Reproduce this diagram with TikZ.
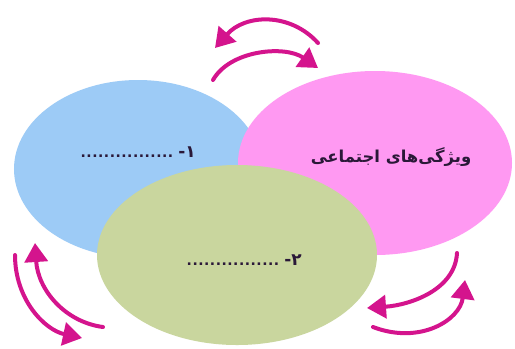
\documentclass[tikz,border=0pt]{standalone}
\usepackage{fontspec}
\newfontfamily\arabicfont[Script=Arabic]{DejaVu Sans}
\newfontfamily\plainfont{DejaVu Sans}
\TeXXeTstate=1
\usetikzlibrary{shapes.geometric,arrows.meta}
\definecolor{cblue}{HTML}{9DCBF6}
\definecolor{cpink}{HTML}{FF99F2}
\definecolor{cgreen}{HTML}{C9D69E}
\definecolor{carrow}{HTML}{D4148D}
\definecolor{ctext}{HTML}{2A1838}
\newcommand{\mydots}[1]{\hbox to #1{\xleaders\hbox to 5.8bp{\hss\fontsize{14}{16}\selectfont\bfseries.\hss}\hfill}}
\tikzset{
  blob/.style={ellipse, draw=none, inner sep=0pt},
  lbl/.style={font=\plainfont\fontsize{17}{19}\selectfont, text=ctext, inner sep=0pt},
  curvedarrow/.style={draw=carrow, line width=4bp, line cap=round,
    -{Triangle[width=23bp,length=19bp]}}
}
\begin{document}
\begin{tikzpicture}[x=1bp,y=-1bp]
\useasboundingbox (0,0) rectangle (515,348);
\fill[white] (0,0) rectangle (515,348);
\node[blob, fill=cblue, minimum width=248bp, minimum height=178bp] (blue) at (138,169) {};
\node[blob, fill=cpink, minimum width=274bp, minimum height=184bp] (pink) at (375,163) {};
\node[blob, fill=cgreen, minimum width=280bp, minimum height=180bp] (green) at (237,255) {};
\node[lbl, anchor=base east] (t1) at (196,157) {\mydots{93bp}\kern5bp\textbf{-۱}};
\node[lbl, anchor=base east] (t2) at (302,265) {\mydots{93bp}\kern5bp\textbf{-۲}};
\node[lbl, font=\arabicfont\bfseries\fontsize{16.5}{19}\selectfont] (t3) at (391,157) {\beginR ویژگی‌های اجتماعی\endR};
% top pair
\draw[curvedarrow] (318,43) .. controls (290,12) and (245,14) .. (215,48);
\draw[curvedarrow] (213,80) .. controls (230,50) and (285,45) .. (318,68);
% bottom-left pair
\draw[curvedarrow] (15,255) .. controls (15,300) and (45,330) .. (82,338);
\draw[curvedarrow] (103,327) .. controls (65,322) and (38,290) .. (35,243);
% bottom-right pair
\draw[curvedarrow] (457,253) .. controls (455,290) and (410,305) .. (367,308);
\draw[curvedarrow] (373,327) .. controls (420,345) and (460,320) .. (465,280);
\end{tikzpicture}
\end{document}
